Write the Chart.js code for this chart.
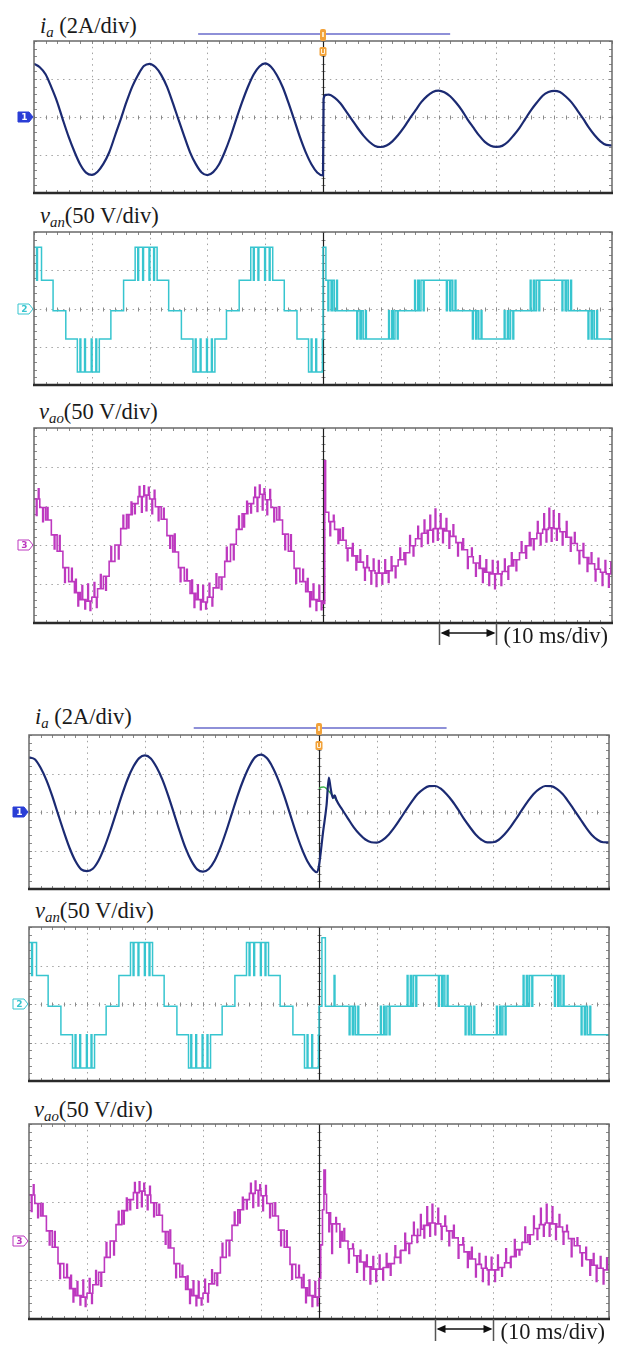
<!DOCTYPE html>
<html>
<head>
<meta charset="utf-8">
<script src="https://cdn.jsdelivr.net/npm/chart.js@4.4.1/dist/chart.umd.min.js"></script>
<style>
  html, body { margin: 0; background: #fff; }
  body { position: relative; width: 620px; height: 1355px; overflow: hidden; }
  canvas { position: absolute; }
  .lbl { position: absolute; font: 22.5px/22.5px "Liberation Serif", "Times New Roman", serif; color: #1a1a1a; white-space: nowrap; }
  .lbl i { font-style: italic; }
  .lbl sub { font-size: 0.66em; font-style: italic; vertical-align: baseline; position: relative; top: 0.28em; }
</style>
</head>
<body>
<div class="lbl" style="left:40px;top:15px"><i>i</i><sub>a</sub> (2A/div)</div>
<div class="lbl" style="left:40px;top:205px"><i>v</i><sub>an</sub>(50 V/div)</div>
<div class="lbl" style="left:39px;top:401px"><i>v</i><sub>ao</sub>(50 V/div)</div>
<div class="lbl" style="left:35px;top:706px"><i>i</i><sub>a</sub> (2A/div)</div>
<div class="lbl" style="left:35px;top:900px"><i>v</i><sub>an</sub>(50 V/div)</div>
<div class="lbl" style="left:34px;top:1099px"><i>v</i><sub>ao</sub>(50 V/div)</div>
<script>
// Scope captures: two step-change tests, each with i_a, v_an, v_ao traces.
// Time in ms (10 ms/div, 10 div), trigger at 50 ms.

const xDivs = [0, 10, 20, 30, 40, 50, 60, 70, 80, 90, 100];
const triggerTime = 50;

// ---- i_a (A), 1 ms samples ----
const ia1Pre = [2.80, 2.62, 2.25, 1.57, 0.80, -0.15, -1.05, -1.83, -2.50, -2.93,
  -3.05, -2.88, -2.47, -1.87, -1.00, -0.12, 0.79, 1.60, 2.21, 2.68,
  2.80, 2.63, 2.22, 1.60, 0.76, -0.14, -1.02, -1.86, -2.48, -2.92,
  -3.06, -2.90, -2.50, -1.84, -1.04, -0.11, 0.78, 1.58, 2.24, 2.66,
  2.82, 2.64, 2.21, 1.59, 0.77, -0.13, -1.05, -1.85, -2.49, -2.92, -3.08];
const ia1Jump = [[50.1, 0.95], [50.5, 1.16]];
const ia1Post = [1.18, 1.02, 0.72, 0.30, -0.14, -0.58, -0.98, -1.30, -1.52, -1.58,
  -1.50, -1.28, -0.95, -0.55, -0.08, 0.35, 0.78, 1.10, 1.32, 1.39,
  1.30, 1.09, 0.76, 0.36, -0.12, -0.55, -0.97, -1.31, -1.51, -1.57,
  -1.52, -1.30, -0.96, -0.57, -0.10, 0.36, 0.76, 1.12, 1.31, 1.38,
  1.31, 1.08, 0.77, 0.35, -0.09, -0.56, -0.96, -1.28, -1.47, -1.50];

const ia2Pre = [2.84, 2.74, 2.30, 1.66, 0.84, -0.10, -1.02, -1.87, -2.55, -2.98,
  -3.07, -2.95, -2.52, -1.84, -1.00, -0.07, 0.86, 1.70, 2.36, 2.80,
  2.94, 2.78, 2.32, 1.68, 0.85, -0.08, -1.02, -1.88, -2.54, -2.98,
  -3.10, -2.96, -2.53, -1.85, -1.00, -0.06, 0.88, 1.70, 2.38, 2.85,
  2.98, 2.80, 2.33, 1.66, 0.84, -0.10, -1.04, -1.88, -2.56, -3.00];
const ia2Jump = [[49.6, -3.13], [50.0, -2.78], [50.7, -1.04], [51.3, 0.35], [51.7, 1.79],
  [52.0, 1.25], [52.4, 0.72], [52.7, 0.87]];
const ia2Post = [0.62, 0.13, -0.34, -0.80, -1.16, -1.43, -1.57, -1.59,
  -1.45, -1.18, -0.80, -0.36, 0.10, 0.54, 0.93, 1.19, 1.34, 1.35,
  1.21, 0.92, 0.56, 0.12, -0.36, -0.78, -1.17, -1.44, -1.58, -1.57,
  -1.44, -1.16, -0.79, -0.35, 0.11, 0.55, 0.94, 1.20, 1.35, 1.34,
  1.20, 0.93, 0.54, 0.10, -0.34, -0.79, -1.18, -1.44, -1.57, -1.58];
const ia2Ref = [[50.0, 1.22], [50.4, 1.28], [50.8, 1.30], [51.3, 1.22], [51.8, 1.05],
  [52.3, 0.88], [52.8, 0.70], [53.2, 0.55]];

// ---- v_an (V), [time, new level] switching instants ----
const vanPre = [
  [0, 80], [0.45, 37], [0.6, 80], [1.3, 37], [3.3, -3], [5.5, -40],
  [7.5, -83], [7.95, -40], [8.1, -83], [8.75, -40], [8.9, -83], [9.9, -40], [10.05, -83], [10.7, -40], [10.85, -83], [11.3, -40],
  [13.3, -3], [15.5, 37],
  [17.5, 80], [17.95, 37], [18.1, 80], [18.8, 37], [18.95, 80], [19.9, 37], [20.05, 80], [20.7, 37], [20.85, 80], [21.3, 37],
  [23.3, -3], [25.5, -40],
  [27.5, -83], [27.9, -40], [28.05, -83], [28.75, -40], [28.9, -83], [29.85, -40], [30.0, -83], [30.7, -40], [30.85, -83], [31.3, -40],
  [33.3, -3], [35.5, 37],
  [37.5, 80], [37.95, 37], [38.1, 80], [38.75, 37], [38.9, 80], [39.9, 37], [40.05, 80], [40.7, 37], [40.85, 80], [41.3, 37],
  [43.3, -3], [45.5, -40],
  [47.5, -83], [47.95, -40], [48.1, -83], [48.75, -40], [48.9, -83], [49.9, -40]
];
const vanPost1 = [
  [50.0, 80], [50.5, 37], [50.85, -3], [51.0, 37], [51.4, -3], [51.65, 37], [51.95, -3], [52.35, 37], [52.5, -3],
  [55.85, -40], [56.0, -3], [56.4, -40], [56.65, -3], [56.95, -40], [57.35, -3], [57.5, -40],
  [61.35, -3], [61.5, -40], [61.9, -3], [62.15, -40], [62.45, -3], [62.85, -40], [63.0, -3],
  [65.85, 37], [66.0, -3], [66.4, 37], [66.65, -3], [66.95, 37], [67.35, -3], [67.5, 37],
  [71.35, -3], [71.5, 37], [71.9, -3], [72.15, 37], [72.45, -3], [72.85, 37], [73.0, -3],
  [75.85, -40], [76.0, -3], [76.4, -40], [76.65, -3], [76.95, -40], [77.35, -3], [77.5, -40],
  [81.35, -3], [81.5, -40], [81.9, -3], [82.15, -40], [82.45, -3], [82.85, -40], [83.0, -3],
  [85.85, 37], [86.0, -3], [86.4, 37], [86.65, -3], [86.95, 37], [87.35, -3], [87.5, 37],
  [91.35, -3], [91.5, 37], [91.9, -3], [92.15, 37], [92.45, -3], [92.85, 37], [93.0, -3],
  [95.85, -40], [96.0, -3], [96.4, -40], [96.65, -3], [96.95, -40], [97.35, -3], [97.5, -40],
  [100, -40]
];
const vanPost2 = [
  [50.0, -3], [50.5, 86], [51.1, -3], [52.6, 37], [52.75, -3],
  [55.2, -40], [55.35, -3], [55.75, -40], [56.0, -3], [56.3, -40], [56.7, -3], [56.85, -40],
  [60.6, -3], [60.75, -40], [61.15, -3], [61.4, -40], [61.7, -3], [62.1, -40], [62.25, -3],
  [65.2, 37], [65.35, -3], [65.75, 37], [66.0, -3], [66.3, 37], [66.7, -3], [66.85, 37],
  [70.6, -3], [70.75, 37], [71.15, -3], [71.4, 37], [71.7, -3], [72.1, 37], [72.25, -3],
  [75.2, -40], [75.35, -3], [75.75, -40], [76.0, -3], [76.3, -40], [76.7, -3], [76.85, -40],
  [80.6, -3], [80.75, -40], [81.15, -3], [81.4, -40], [81.7, -3], [82.1, -40], [82.25, -3],
  [85.2, 37], [85.35, -3], [85.75, 37], [86.0, -3], [86.3, 37], [86.7, -3], [86.85, 37],
  [90.6, -3], [90.75, 37], [91.15, -3], [91.4, 37], [91.7, -3], [92.1, 37], [92.25, -3],
  [95.2, -40], [95.35, -3], [95.75, -40], [96.0, -3], [96.3, -40], [96.7, -3], [96.85, -40],
  [100, -40]
];

// ---- v_ao (V): staircase level per 1 ms plus switching spikes [time, tip] ----
const vaoPre = [59, 48, 32, 13, -8, -29, -47, -61, -70, -72,
  -67, -56, -40, -21, 0, 21, 39, 53, 62, 64,
  59, 49, 33, 12, -9, -29, -46, -62, -70, -73,
  -67, -55, -41, -21, 1, 20, 40, 53, 61, 65,
  58, 48, 32, 14, -8, -30, -47, -60, -70, -72];
const vaoPreSpikes = [
  [0.4, 38], [0.75, 72], [1.5, 30], [2.3, 48], [3.5, -5], [4.4, 12], [5.3, -48], [6.5, -30], [7.2, -44], [7.6, -78],
  [8.3, -52], [8.8, -82], [9.3, -50], [9.7, -84], [10.4, -48], [10.8, -80], [11.5, -38], [12.4, -58], [13.3, -2], [14.6, -18],
  [15.4, 38], [16.3, 22], [16.8, 55], [17.4, 40], [18.2, 75], [18.6, 42], [19.0, 76], [19.4, 44], [19.8, 74],
  [20.4, 40], [20.8, 70], [21.5, 31], [22.4, 47], [23.5, -4], [24.3, 14], [25.3, -47], [26.4, -31], [27.3, -45], [27.7, -80],
  [28.3, -51], [28.8, -83], [29.2, -52], [29.7, -82], [30.3, -49], [30.8, -78], [31.5, -37], [32.4, -57], [33.3, -3], [34.5, -19],
  [35.4, 37], [36.3, 23], [36.8, 56], [37.5, 41], [38.2, 74], [38.6, 43], [39.0, 77], [39.5, 45], [39.8, 72],
  [40.3, 39], [40.8, 71], [41.5, 30], [42.4, 49], [43.4, -6], [44.4, 13], [45.3, -49], [46.5, -31], [47.3, -43], [47.7, -79],
  [48.3, -50], [48.8, -84], [49.3, -52], [49.7, -83]
];
const vao1Jump = [[50, -75], [50.3, 108], [50.45, 42]];
const vao1Post = [30, 20, 6, -4, -14, -22, -29, -33, -36, -36,
  -33, -27, -19, -10, -1, 8, 15, 19, 21, 21,
  18, 11, 3, -6, -15, -23, -30, -35, -37, -37,
  -34, -27, -19, -10, -1, 8, 15, 20, 22, 21,
  17, 10, 2, -7, -16, -24, -31, -35, -37];
const vao1Spikes = [
  [51.2, 12], [51.8, 38], [52.6, 2], [53.4, 22], [54.2, -20], [55.1, 2], [55.7, -32], [56.4, -6], [57.2, -45], [57.6, -14],
  [58.3, -50], [58.7, -18], [59.2, -53], [59.6, -20], [60.2, -50], [60.7, -19], [61.3, -48], [61.8, -15], [62.5, -42], [63.3, -4],
  [64.2, -25], [65.0, 12], [65.6, -14], [66.4, 24], [67.0, -2], [67.5, 32], [68.1, 2], [68.5, 38], [69.0, 4], [69.4, 46],
  [69.8, 6], [70.3, 40], [70.7, 3], [71.3, 34], [71.8, -4], [72.5, 26], [73.3, -14], [74.2, 8], [75.0, -30], [75.7, -4],
  [76.4, -40], [77.1, -14], [77.6, -48], [78.2, -19], [78.7, -52], [79.3, -20], [79.7, -56], [80.2, -21], [80.8, -52], [81.4, -18],
  [82.0, -44], [82.6, -10], [83.4, -33], [84.3, 4], [85.1, -17], [85.7, 16], [86.4, -6], [87.1, 30], [87.6, 0], [88.2, 40],
  [88.6, 4], [89.1, 47], [89.5, 5], [89.85, 44], [90.4, 6], [90.8, 40], [91.4, 0], [92.1, 30], [92.8, -8], [93.5, 16],
  [94.3, -24], [95.0, 2], [95.7, -34], [96.4, -10], [97.1, -46], [97.6, -17], [98.3, -52], [98.8, -20], [99.4, -54], [99.8, -22]
];
const vao2Jump = [[50, -48], [50.3, -5], [50.6, 40], [50.85, 91], [51.1, 60], [51.3, 36]];
const vao2Post = [22, 12, 0, -10, -19, -27, -33, -36,
  -36, -34, -29, -21, -12, -3, 7, 15, 20, 23,
  22, 19, 13, 4, -5, -14, -23, -30, -35, -37,
  -37, -34, -28, -20, -11, -2, 8, 16, 21, 23,
  22, 18, 12, 3, -6, -15, -24, -31, -35, -37];
const vao2Spikes = [
  [51.7, 12], [52.2, -16], [52.9, 30], [53.6, -8], [54.3, 16], [55.1, -28], [55.8, -4], [56.5, -40], [57.1, -12], [57.7, -50],
  [58.2, -18], [58.8, -55], [59.3, -20], [59.8, -52], [60.4, -18], [61.0, -50], [61.6, -16], [62.3, -44], [63.1, -6], [64.0, -28],
  [64.8, 10], [65.5, -16], [66.3, 24], [66.9, -2], [67.5, 34], [68.1, 4], [68.6, 44], [69.1, 6], [69.5, 47], [70.0, 8],
  [70.5, 42], [71.1, 2], [71.7, 32], [72.4, -6], [73.2, 20], [74.0, -22], [74.8, 4], [75.6, -34], [76.3, -8], [77.0, -46],
  [77.6, -16], [78.2, -52], [78.7, -20], [79.2, -56], [79.7, -21], [80.3, -52], [80.8, -18], [81.5, -45], [82.2, -10], [83.0, -34],
  [83.7, 2], [84.5, -18], [85.5, 18], [86.3, -4], [87.0, 32], [87.6, 2], [88.2, 42], [88.7, 6], [89.2, 47], [89.7, 6],
  [90.2, 44], [90.8, 2], [91.4, 34], [92.1, -4], [92.7, 20], [93.5, -20], [94.5, 4], [95.3, -32], [96.0, -8], [96.7, -44],
  [97.3, -16], [97.8, -52], [98.5, -20], [99.0, -55], [99.6, -22]
];

// ---- helpers ----
function fromMs(start, values) {
  return values.map((v, i) => ({ x: start + i, y: v }));
}
function pairs(list) {
  return list.map(([t, v]) => ({ x: t, y: v }));
}
function levelAt(points, t) {
  let v = points[0].y;
  for (const p of points) { if (p.x <= t) v = p.y; else break; }
  return v;
}
// narrow switching pulse on top of the step it falls in
function withSpikes(points, spikes) {
  const out = points.slice();
  spikes.forEach(([t, tip]) => {
    const base = levelAt(points, t);
    out.push({ x: t, y: tip }, { x: t + 0.12, y: base });
  });
  return out.sort((a, b) => a.x - b.x);
}

const navy = '#1b2a72';
const cyan = '#37c5cf';
const magenta = '#bd38bf';

const ia1 = [...fromMs(0, ia1Pre), ...pairs(ia1Jump), ...fromMs(51, ia1Post)];
const ia2 = [...fromMs(0, ia2Pre), ...pairs(ia2Jump), ...fromMs(53, ia2Post)];
const van1 = pairs(vanPre.concat(vanPost1));
const van2 = pairs(vanPre.concat(vanPost2));
const vao1Steps = [...fromMs(0, vaoPre), ...pairs(vao1Jump), ...fromMs(51, vao1Post), { x: 100, y: vao1Post[vao1Post.length - 1] }];
const vao2Steps = [...fromMs(0, vaoPre), ...pairs(vao2Jump), ...fromMs(52, vao2Post), { x: 100, y: vao2Post[vao2Post.length - 1] }];
const vao1 = withSpikes(vao1Steps, vaoPreSpikes.concat(vao1Spikes));
const vao2 = withSpikes(vao2Steps, vaoPreSpikes.concat(vao2Spikes));

function smooth(data, color, width) {
  return { data, borderColor: color, borderWidth: width, pointRadius: 0, fill: false, cubicInterpolationMode: 'monotone' };
}
function steps(data, color, width) {
  return { data, borderColor: color, borderWidth: width, pointRadius: 0, fill: false, stepped: true };
}

const panels = [
  { left: 34, top: 41, width: 578, height: 152, yMin: -4, yMax: 4, step: 2, ch: '1', chColor: '#2a3ed6', solid: true, trig: true,
    datasets: [smooth(ia1, navy, 2.2)] },
  { left: 34, top: 232, width: 578, height: 153, yMin: -100, yMax: 100, step: 50, ch: '2', chColor: cyan,
    datasets: [steps(van1, cyan, 1.5)] },
  { left: 34, top: 428, width: 578, height: 195, yMin: -100, yMax: 150, step: 50, ch: '3', chColor: magenta, arrow: true,
    datasets: [steps(vao1, magenta, 1.6)] },
  { left: 29, top: 735, width: 580, height: 154, yMin: -4, yMax: 4, step: 2, ch: '1', chColor: '#2a3ed6', solid: true, trig: true,
    datasets: [smooth(ia2, navy, 2.2), smooth(pairs(ia2Ref), '#3fb24c', 1.6)] },
  { left: 29, top: 927, width: 580, height: 154, yMin: -100, yMax: 100, step: 50, ch: '2', chColor: cyan,
    datasets: [steps(van2, cyan, 1.5)] },
  { left: 29, top: 1124, width: 580, height: 195, yMin: -100, yMax: 150, step: 50, ch: '3', chColor: magenta, arrow: true,
    datasets: [steps(vao2, magenta, 1.6)] }
];

function scopePlugin(p) {
  return {
    id: 'scope',
    beforeDatasetsDraw(chart) {
      const { ctx, chartArea: a, scales: { x, y } } = chart;
      ctx.save();
      // dotted division lines
      ctx.strokeStyle = '#a3a3a3';
      ctx.lineWidth = 1;
      ctx.setLineDash([1.5, 4.3]);
      xDivs.slice(1, -1).forEach(t => {
        if (t === triggerTime) return;
        const px = Math.round(x.getPixelForValue(t)) + 0.5;
        ctx.beginPath(); ctx.moveTo(px, a.top); ctx.lineTo(px, a.bottom); ctx.stroke();
      });
      for (let v = p.yMin + p.step; v < p.yMax - 1e-6; v += p.step) {
        const py = Math.round(y.getPixelForValue(v)) + 0.5;
        ctx.beginPath(); ctx.moveTo(a.left, py); ctx.lineTo(a.right, py); ctx.stroke();
      }
      ctx.setLineDash([]);
      // minor ticks on the border and on the centre lines
      const cx = Math.round(x.getPixelForValue(triggerTime)) + 0.5;
      const y0 = Math.round(y.getPixelForValue(0)) + 0.5;
      ctx.strokeStyle = '#8a8a8a';
      ctx.beginPath();
      for (let t = 0; t <= 100; t += 2) {
        const px = Math.round(x.getPixelForValue(t)) + 0.5;
        ctx.moveTo(px, a.top); ctx.lineTo(px, a.top + 3);
        ctx.moveTo(px, a.bottom); ctx.lineTo(px, a.bottom - 3);
        if (p.yMax === -p.yMin) { ctx.moveTo(px, y0 - 2); ctx.lineTo(px, y0 + 2); }
      }
      for (let v = p.yMin; v <= p.yMax + 1e-6; v += p.step / 5) {
        const py = Math.round(y.getPixelForValue(v)) + 0.5;
        ctx.moveTo(a.left, py); ctx.lineTo(a.left + 3, py);
        ctx.moveTo(a.right, py); ctx.lineTo(a.right - 3, py);
        ctx.moveTo(cx - 2, py); ctx.lineTo(cx + 2, py);
      }
      ctx.stroke();
      // trigger instant
      ctx.strokeStyle = '#1e1e1e';
      ctx.lineWidth = 1.2;
      ctx.beginPath(); ctx.moveTo(cx, a.top); ctx.lineTo(cx, a.bottom); ctx.stroke();
      ctx.restore();
    },
    afterDatasetsDraw(chart) {
      const { ctx, chartArea: a, scales: { x, y } } = chart;
      ctx.save();
      // frame
      ctx.strokeStyle = '#6a6a6a';
      ctx.lineWidth = 1.5;
      ctx.beginPath();
      ctx.moveTo(a.left, a.bottom); ctx.lineTo(a.left, a.top); ctx.lineTo(a.right, a.top); ctx.lineTo(a.right, a.bottom);
      ctx.stroke();
      ctx.strokeStyle = '#2a2a2a';
      ctx.lineWidth = 2.5;
      ctx.beginPath(); ctx.moveTo(a.left - 1, a.bottom); ctx.lineTo(a.right + 1, a.bottom); ctx.stroke();

      // channel badge at the zero level
      const xr = a.left - 1, yc = Math.round(y.getPixelForValue(0));
      ctx.beginPath();
      ctx.moveTo(xr - 15, yc - 5); ctx.lineTo(xr - 4, yc - 5); ctx.lineTo(xr, yc);
      ctx.lineTo(xr - 4, yc + 5); ctx.lineTo(xr - 15, yc + 5); ctx.closePath();
      ctx.fillStyle = p.solid ? p.chColor : '#ffffff';
      ctx.fill();
      ctx.strokeStyle = p.chColor; ctx.lineWidth = 1; ctx.stroke();
      ctx.fillStyle = p.solid ? '#ffffff' : p.chColor;
      ctx.font = 'bold 9px "DejaVu Sans"';
      ctx.textAlign = 'center'; ctx.textBaseline = 'middle';
      ctx.fillText(p.ch, xr - 8.5, yc + 0.5);

      if (p.trig) {
        // record-window bar and trigger marker above the graticule
        const yb = a.top - 7;
        ctx.strokeStyle = '#8e90d8'; ctx.lineWidth = 2;
        ctx.beginPath(); ctx.moveTo(x.getPixelForValue(28.4), yb); ctx.lineTo(x.getPixelForValue(72), yb); ctx.stroke();
        const tx = Math.round(x.getPixelForValue(triggerTime));
        ctx.fillStyle = '#f2a23a';
        ctx.beginPath(); ctx.roundRect(tx - 3, a.top - 12, 6, 12, 2); ctx.fill();
        ctx.fillStyle = '#fde7c0';
        ctx.fillRect(tx - 1, a.top - 9, 2, 5);
        ctx.fillStyle = '#f2a23a';
        ctx.beginPath(); ctx.roundRect(tx - 3.5, a.top + 6, 7, 9, 1.5); ctx.fill();
        ctx.strokeStyle = '#fff3dd'; ctx.lineWidth = 1;
        ctx.beginPath(); ctx.moveTo(tx - 1.5, a.top + 8); ctx.lineTo(tx - 1.5, a.top + 12.5);
        ctx.lineTo(tx + 1.5, a.top + 12.5); ctx.lineTo(tx + 1.5, a.top + 8); ctx.stroke();
      }

      if (p.arrow) {
        // one-division time marker under the v_ao trace
        const x1 = Math.round(x.getPixelForValue(70)) + 0.5, x2 = Math.round(x.getPixelForValue(80)) + 0.5;
        const ya = a.bottom + 10;
        ctx.strokeStyle = '#555'; ctx.lineWidth = 1.5;
        ctx.beginPath();
        ctx.moveTo(x1, a.bottom); ctx.lineTo(x1, a.bottom + 22);
        ctx.moveTo(x2, a.bottom); ctx.lineTo(x2, a.bottom + 22);
        ctx.stroke();
        ctx.strokeStyle = '#111'; ctx.lineWidth = 1.5;
        ctx.beginPath(); ctx.moveTo(x1 + 3, ya); ctx.lineTo(x2 - 3, ya); ctx.stroke();
        ctx.fillStyle = '#111';
        ctx.beginPath(); ctx.moveTo(x1 + 1, ya); ctx.lineTo(x1 + 10, ya - 4); ctx.lineTo(x1 + 10, ya + 4); ctx.closePath(); ctx.fill();
        ctx.beginPath(); ctx.moveTo(x2 - 1, ya); ctx.lineTo(x2 - 10, ya - 4); ctx.lineTo(x2 - 10, ya + 4); ctx.closePath(); ctx.fill();
        ctx.fillStyle = '#1a1a1a';
        ctx.font = '22.5px "Liberation Serif"';
        ctx.textAlign = 'left'; ctx.textBaseline = 'alphabetic';
        ctx.fillText('(10 ms/div)', x2 + 7, a.bottom + 20);
      }
      ctx.restore();
    }
  };
}

panels.forEach(p => {
  const pad = { left: 24, right: 6, top: p.trig ? 16 : 4, bottom: p.arrow ? 28 : 4 };
  const canvas = document.createElement('canvas');
  canvas.width = p.width + pad.left + pad.right;
  canvas.height = p.height + pad.top + pad.bottom;
  canvas.style.left = (p.left - pad.left) + 'px';
  canvas.style.top = (p.top - pad.top) + 'px';
  document.body.appendChild(canvas);

  new Chart(canvas.getContext('2d'), {
    type: 'line',
    data: { datasets: p.datasets },
    options: {
      responsive: false,
      animation: false,
      events: [],
      layout: { padding: pad },
      plugins: { legend: { display: false }, tooltip: { enabled: false } },
      scales: {
        x: { type: 'linear', min: xDivs[0], max: xDivs[xDivs.length - 1], display: false },
        y: { type: 'linear', min: p.yMin, max: p.yMax, display: false }
      }
    },
    plugins: [scopePlugin(p)]
  });
});
</script>
</body>
</html>
